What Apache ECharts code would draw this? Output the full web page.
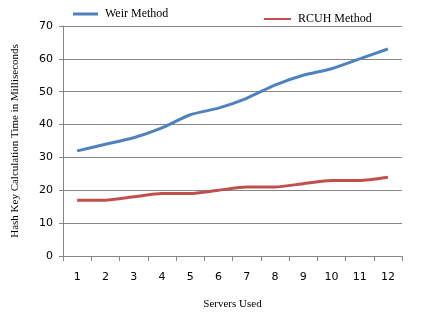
<!DOCTYPE html>
<html><head><meta charset="utf-8">
<script src="https://cdn.jsdelivr.net/npm/echarts@6/dist/echarts.min.js"></script>
<style>html,body{margin:0;padding:0;background:#fff}#c{width:428px;height:317px}</style>
</head><body><div id="c"></div>
<script>
const categories = ['1','2','3','4','5','6','7','8','9','10','11','12'];
const weir = [32, 34, 36, 39, 43, 45, 48, 52, 55, 57, 60, 63];
const rcuh = [17, 17, 18, 19, 19, 20, 21, 21, 22, 23, 23, 24];
const yTicks = {min: 0, max: 70, interval: 10};

const chart = echarts.init(document.getElementById('c'));
const serif = 'Liberation Serif';
const sans = 'DejaVu Sans';
chart.setOption({
  animation: false,
  legend: [
    {data: ['Weir Method'], left: 68, top: 3, icon: 'rect', itemWidth: 25, itemHeight: 3, itemGap: 5,
     textStyle: {fontFamily: serif, fontSize: 12, color: '#000', padding: [0, 0, 0, 2]}},
    {data: ['RCUH Method'], left: 259, top: 8, icon: 'rect', itemWidth: 27, itemHeight: 2, itemGap: 5,
     textStyle: {fontFamily: serif, fontSize: 12, color: '#000', padding: [0, 0, 0, 2]}}
  ],
  grid: {left: 63, right: 26, top: 26, bottom: 61, containLabel: false},
  xAxis: {
    type: 'category', data: categories, boundaryGap: true,
    name: 'Servers Used', nameLocation: 'middle', nameGap: 43,
    nameTextStyle: {fontFamily: serif, fontSize: 11, color: '#000'},
    axisLine: {lineStyle: {color: '#868686'}},
    axisTick: {show: true, length: 5, lineStyle: {color: '#868686'}},
    axisLabel: {fontFamily: sans, fontSize: 11, color: '#000', margin: 16}
  },
  yAxis: {
    type: 'value', min: yTicks.min, max: yTicks.max, interval: yTicks.interval,
    name: 'Hash Key Calculation Time in Milliseconds', nameLocation: 'middle', nameGap: 42,
    nameTextStyle: {fontFamily: serif, fontSize: 11, color: '#000'},
    axisLine: {show: true, lineStyle: {color: '#868686'}},
    axisTick: {show: true, length: 4, inside: false, lineStyle: {color: '#868686'}},
    axisLabel: {fontFamily: sans, fontSize: 11, color: '#000', margin: 10},
    splitLine: {lineStyle: {color: '#868686', width: 1}}
  },
  series: [
    {name: 'Weir Method', type: 'line', data: weir, smooth: 0.2, symbol: 'none',
     lineStyle: {color: '#4F81BD', width: 3}, itemStyle: {color: '#4F81BD'}},
    {name: 'RCUH Method', type: 'line', data: rcuh, smooth: 0.2, symbol: 'none',
     lineStyle: {color: '#C0504D', width: 3}, itemStyle: {color: '#C0504D'}}
  ]
});
</script></body></html>
